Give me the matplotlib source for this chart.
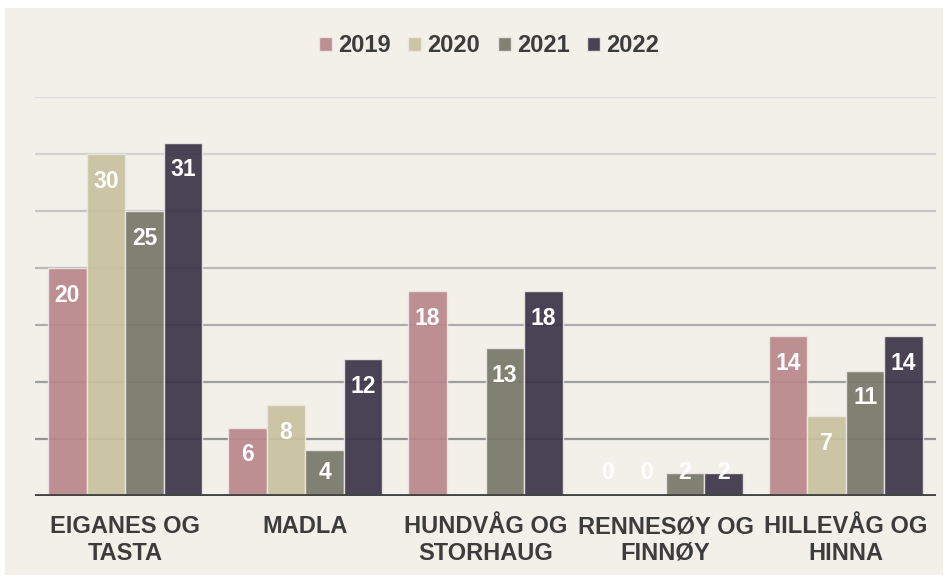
import numpy as np
import matplotlib
matplotlib.use("Agg")
import matplotlib.pyplot as plt
from matplotlib.patches import Rectangle

plt.rcParams['font.family'] = ['Liberation Sans', 'DejaVu Sans']

# Data (None = no bar / no label)
districts = ['EIGANES OG\nTASTA', 'MADLA', 'HUNDVÅG OG\nSTORHAUG',
             'RENNESØY OG\nFINNØY', 'HILLEVÅG OG\nHINNA']
years = ['2019', '2020', '2021', '2022']
v2019 = [20, 6, 18, 0, 14]
v2020 = [30, 8, None, 0, 7]
v2021 = [25, 4, 13, 2, 11]
v2022 = [31, 12, 18, 2, 14]
grid_ticks = [5, 10, 15, 20, 25, 30, 35]

series = [v2019, v2020, v2021, v2022]
colors = ['#b9868b', '#c8c19f', '#777869', '#3b3449']
bg = '#f3f0ea'
text_col = '#3c3c3c'

fig = plt.figure(figsize=(9.51, 5.8), dpi=100)
fig.patch.set_facecolor('white')
fig.patches.append(Rectangle((5 / 951, 5 / 580), 938 / 951, 567 / 580,
                             transform=fig.transFigure, facecolor=bg,
                             edgecolor='none', zorder=-10))

ax = fig.add_axes([35 / 951, 84 / 580, 901 / 951, 399 / 580])
ax.set_facecolor('none')

# gridlines, getting darker towards the baseline
for i, g in enumerate(grid_ticks):
    shade = np.interp(i, [0, len(grid_ticks) - 1], [0.58, 0.87])[()]
    ax.axhline(g, color=str(shade), lw=1.6, zorder=0)

x = np.arange(len(districts))
w = 0.214
for k, (vals, c) in enumerate(zip(series, colors)):
    pos = x + (k - 1.5) * w
    heights = [np.nan if v is None else v for v in vals]
    ax.bar(pos, heights, width=w, color=c, alpha=0.92, edgecolor='#ece6e4',
           linewidth=1.0, label=years[k], zorder=2)
    for xp, v in zip(pos, vals):
        if v is None:
            continue
        ax.text(xp, max(v - 2.4, 2.1), str(v), ha='center', va='center',
                color='white', fontsize=16.5, fontweight='bold', zorder=3)

ax.axhline(0, color='#444444', lw=3.5, zorder=4)

ax.set_xlim(-0.5, len(districts) - 0.5)
ax.set_ylim(0, 35)
ax.set_yticks([])
ax.set_xticks(x)
ax.set_xticklabels(districts, fontsize=17, fontweight='bold', color=text_col,
                   linespacing=1.18)
ax.tick_params(axis='x', length=0, pad=14)
for s in ax.spines.values():
    s.set_visible(False)

leg = ax.legend(loc='center', bbox_to_anchor=(0.504, 1.128), ncol=4,
                frameon=False, handlelength=0.55, handleheight=0.55,
                handletextpad=0.25, columnspacing=0.75,
                prop={'size': 17, 'weight': 'bold'})
for t in leg.get_texts():
    t.set_color(text_col)

fig.savefig('out.png', dpi=100, facecolor=fig.get_facecolor())
